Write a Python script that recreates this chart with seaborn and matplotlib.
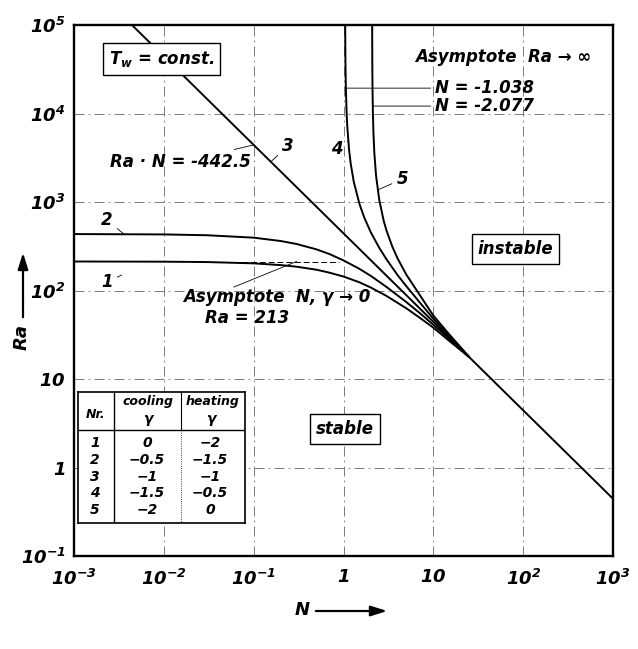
import pandas as pd
import seaborn as sns
import matplotlib.pyplot as plt

# curves, N on x, Ra on y (both log)
n_1 = [0.001, 0.01, 0.03, 0.1, 0.2, 0.3, 0.5, 0.7, 1, 1.5, 2, 3, 5, 7, 10, 15, 20, 25]
ra_1 = [213, 212, 210, 203, 194, 186, 172, 159, 144, 124, 108.5, 87, 63, 49.5, 38, 27, 21.3, 17.7]

n_2 = [0.001, 0.01, 0.03, 0.1, 0.2, 0.3, 0.5, 0.7, 1, 1.5, 2, 3, 5, 7, 10, 15, 20, 25]
ra_2 = [435, 431, 422, 396, 363, 336, 292, 258, 219, 176, 147, 110, 74, 56, 41, 28.5, 21.8, 17.7]

# straight line Ra*N = -442.5
n_3 = [0.004425, 1000]
ra_3 = [100000, 0.4425]

n_4 = [1.042, 1.045, 1.05, 1.06, 1.08, 1.1, 1.15, 1.2, 1.3, 1.5, 1.7, 2, 2.5, 3, 4, 5, 7, 10, 15, 20, 25]
ra_4 = [110000, 63200, 36900, 20100, 10500, 7140, 3950, 2730, 1690, 958, 668, 460, 303, 226, 149, 112, 74, 48, 30.5, 22.5, 17.7]

n_5 = [2.081, 2.085, 2.09, 2.1, 2.12, 2.15, 2.2, 2.3, 2.5, 2.8, 3, 3.5, 4, 5, 7, 10, 15, 20, 25]
ra_5 = [110000, 55300, 34000, 19200, 10300, 6060, 3600, 1980, 1050, 612, 479, 311, 230, 151, 90, 52, 32, 23, 17.7]

x_ticks = [1e-3, 1e-2, 1e-1, 1, 10, 1e2, 1e3]
x_labels = [r"$10^{-3}$", r"$10^{-2}$", r"$10^{-1}$", r"$1$", r"$10$", r"$10^{2}$", r"$10^{3}$"]
y_ticks = [1e-1, 1, 10, 1e2, 1e3, 1e4, 1e5]
y_labels = [r"$10^{-1}$", r"$1$", r"$10$", r"$10^{2}$", r"$10^{3}$", r"$10^{4}$", r"$10^{5}$"]

table_nr = ["1", "2", "3", "4", "5"]
table_cooling = ["0", "\u22120.5", "\u22121", "\u22121.5", "\u22122"]
table_heating = ["\u22122", "\u22121.5", "\u22121", "\u22120.5", "0"]

sns.set_theme(style="white")
plt.rcParams["font.family"] = ["DejaVu Sans"]
plt.rcParams["mathtext.fontset"] = "custom"
plt.rcParams["mathtext.rm"] = "DejaVu Sans:bold:italic"
plt.rcParams["mathtext.it"] = "DejaVu Sans:bold:italic"
plt.rcParams["mathtext.bf"] = "DejaVu Sans:bold:italic"

frames = []
for name, n, ra in [("1", n_1, ra_1), ("2", n_2, ra_2), ("3", n_3, ra_3),
                    ("4", n_4, ra_4), ("5", n_5, ra_5)]:
    frames.append(pd.DataFrame({"N": n, "Ra": ra, "curve": name}))
df = pd.concat(frames, ignore_index=True)

fig = plt.figure(figsize=(6.38, 6.49), dpi=100)
ax = fig.add_axes([0.116, 0.1433, 0.845, 0.818])
sns.lineplot(data=df, x="N", y="Ra", units="curve", estimator=None, sort=False,
             color="black", lw=1.4, legend=False, ax=ax)
ax.set_xscale("log")
ax.set_yscale("log")
ax.set_xlim(1e-3, 1e3)
ax.set_ylim(1e-1, 1e5)
ax.minorticks_off()
ax.set_xticks(x_ticks)
ax.set_xticklabels(x_labels)
ax.set_yticks(y_ticks)
ax.set_yticklabels(y_labels)
ax.tick_params(which="both", length=0, labelsize=13, colors="black")
ax.tick_params(axis="x", pad=9)
ax.tick_params(axis="y", pad=6)
ax.set_xlabel("")
ax.set_ylabel("")
ax.set_axisbelow(True)
ax.grid(True, which="major", color="0.4", lw=0.6, ls=(0, (12, 5, 2, 5)))
for s in ax.spines.values():
    s.set_color("black")
    s.set_linewidth(1.7)

txt = dict(fontsize=12, fontweight="bold", style="italic", color="black")
box = dict(boxstyle="square,pad=0.35", fc="white", ec="black", lw=1.0)
lead = dict(arrowstyle="-", color="black", lw=0.6, shrinkA=1, shrinkB=0)

# asymptote Ra = 213
ax.plot([0.03, 0.9], [213, 213], color="black", lw=0.7, ls=(0, (6, 3)))

ax.text(0.0095, 41300, r"$T_w$ = const.", ha="center", va="center", bbox=box, **txt)
ax.annotate("Ra \u00b7 N = -442.5", xy=(0.1, 4425), xytext=(0.0025, 2830),
            ha="left", va="center", arrowprops=lead, **txt)
ax.annotate("3", xy=(0.155, 2855), xytext=(0.24, 4300), ha="center", va="center",
            arrowprops=lead, **txt)
ax.annotate("2", xy=(0.0036, 435), xytext=(0.00233, 620), ha="center", va="center",
            arrowprops=lead, **txt)
ax.annotate("1", xy=(0.0034, 150), xytext=(0.00233, 125), ha="center", va="center",
            arrowprops=lead, **txt)
ax.annotate("4", xy=(1.12, 4900), xytext=(0.85, 4000), ha="center", va="center",
            arrowprops=lead, **txt)
ax.annotate("5", xy=(2.4, 1370), xytext=(4.5, 1820), ha="center", va="center",
            arrowprops=lead, **txt)

ax.text(0.0164, 84.5, "Asymptote  N, \u03b3 \u2192 0", ha="left", va="center", **txt)
ax.text(0.0845, 49, "Ra = 213", ha="center", va="center", **txt)
ax.annotate("", xy=(0.3, 213), xytext=(0.058, 108), arrowprops=lead)

ax.text(6.27, 43500, "Asymptote  Ra \u2192 \u221e", ha="left", va="center", **txt)
ax.annotate("N = -1.038", xy=(1.045, 19400), xytext=(10.5, 19400), ha="left", va="center",
            arrowprops=lead, **txt)
ax.annotate("N = -2.077", xy=(2.11, 12160), xytext=(10.5, 12160), ha="left", va="center",
            arrowprops=lead, **txt)

ax.text(81.5, 294, "instable", ha="center", va="center", bbox=box, **txt)
ax.text(1.04, 2.72, "stable", ha="center", va="center", bbox=box, **txt)

# table of gamma values
tab = fig.add_axes([78 / 638, 1 - 523 / 649, 167 / 638, 131 / 649])
tab.set_xlim(0, 167)
tab.set_ylim(131, 0)
tab.set_xticks([])
tab.set_yticks([])
tab.set_facecolor("white")
for s in tab.spines.values():
    s.set_color("black")
    s.set_linewidth(1.2)
tab.plot([0, 167], [38, 38], color="black", lw=1.0)
tab.plot([36, 36], [0, 131], color="black", lw=1.0)
tab.plot([103, 103], [0, 38], color="black", lw=0.8)
tab.plot([103, 103], [38, 131], color="black", lw=0.6, ls=":")
cell = dict(fontsize=10, fontweight="bold", style="italic", color="black", ha="center", va="center")
head = dict(cell, fontsize=9)
tab.text(18, 22, "Nr.", **head)
tab.text(70, 10, "cooling", **head)
tab.text(70, 27, "\u03b3", **cell)
tab.text(135, 10, "heating", **head)
tab.text(133, 27, "\u03b3", **cell)
for i, (nr, c, h) in enumerate(zip(table_nr, table_cooling, table_heating)):
    y = 51 + i * 16.8
    tab.text(17, y, nr, **cell)
    tab.text(69, y, c, **cell)
    tab.text(132, y, h, **cell)

# axis names with arrows
lab = dict(fontsize=13, fontweight="bold", style="italic", color="black", ha="center", va="center")
fig.text(22 / 638, 1 - 337 / 649, "Ra", rotation=90, **lab)
fig.text(302 / 638, 1 - 610 / 649, "N", **lab)
arrow = dict(arrowstyle="-|>,head_length=0.7,head_width=0.22", color="black", lw=1.6, mutation_scale=14)
ax.annotate("", xy=(23 / 638, 1 - 250 / 649), xytext=(23 / 638, 1 - 320 / 649),
            xycoords="figure fraction", textcoords="figure fraction", arrowprops=arrow)
ax.annotate("", xy=(390 / 638, 1 - 611 / 649), xytext=(313 / 638, 1 - 611 / 649),
            xycoords="figure fraction", textcoords="figure fraction", arrowprops=arrow)

fig.savefig("out.png", dpi=100, facecolor="white")
